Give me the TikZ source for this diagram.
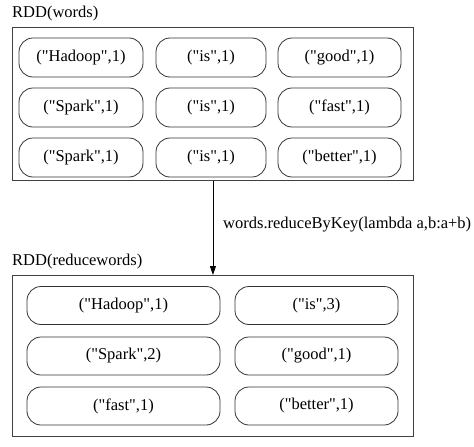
\documentclass[tikz,border=0pt]{standalone}
\usepackage{fontspec}
\setmainfont{Liberation Serif}
\usetikzlibrary{arrows.meta}
\newcommand\qd{\textquotedbl}
\begin{document}
\begin{tikzpicture}[x=1pt,y=-1pt,
  frame/.style={draw=black!75,line width=0.9pt,inner sep=0pt,anchor=north west},
  pill/.style={draw=black!80,line width=0.8pt,rounded corners=14pt,inner sep=0pt,font=\fontsize{16.5}{18}\selectfont},
  lbl/.style={anchor=west,inner sep=0pt,font=\fontsize{16.5}{18}\selectfont}]
\useasboundingbox (0,0) rectangle (474,447);
\node[frame,minimum width=401pt,minimum height=153pt] (top) at (12,27) {};
\node[frame,minimum width=401pt,minimum height=161pt] (bot) at (12,275) {};
\node[lbl] (tl) at (12,14) {RDD(words)};
\node[lbl] (bl) at (12,262) {RDD(reducewords)};
% top pills
\node[pill,minimum width=124pt,minimum height=39pt] (a1) at (81,57.5) {(\qd Hadoop\qd,1)};
\node[pill,minimum width=110pt,minimum height=39pt] (a2) at (211,57.5) {(\qd is\qd,1)};
\node[pill,minimum width=123pt,minimum height=39pt] (a3) at (339.5,57.5) {(\qd good\qd,1)};
\node[pill,minimum width=124pt,minimum height=39pt] (b1) at (81,107.5) {(\qd Spark\qd,1)};
\node[pill,minimum width=110pt,minimum height=39pt] (b2) at (211,107.5) {(\qd is\qd,1)};
\node[pill,minimum width=123pt,minimum height=39pt] (b3) at (339.5,107.5) {(\qd fast\qd,1)};
\node[pill,minimum width=124pt,minimum height=39pt] (c1) at (81,157.5) {(\qd Spark\qd,1)};
\node[pill,minimum width=110pt,minimum height=39pt] (c2) at (211,157.5) {(\qd is\qd,1)};
\node[pill,minimum width=123pt,minimum height=39pt] (c3) at (339.5,157.5) {(\qd better\qd,1)};
% bottom pills
\node[pill,minimum width=193pt,minimum height=38pt] (d1) at (123.5,305.5) {(\qd Hadoop\qd,1)};
\node[pill,minimum width=163pt,minimum height=38pt] (d2) at (316.5,305.5) {(\qd is\qd,3)};
\node[pill,minimum width=193pt,minimum height=38pt] (e1) at (123.5,356) {(\qd Spark\qd,2)};
\node[pill,minimum width=163pt,minimum height=38pt] (e2) at (316.5,356) {(\qd good\qd,1)};
\node[pill,minimum width=193pt,minimum height=38pt] (f1) at (123.5,406) {(\qd fast\qd,1)};
\node[pill,minimum width=163pt,minimum height=38pt] (f2) at (316.5,406) {(\qd better\qd,1)};
\draw[line width=0.9pt,-{Triangle[length=9pt,width=6pt]}] (top.south) -- (bot.north);
\node[lbl] (op) at (223,225) {words.reduceByKey(lambda a,b:a+b)};
\end{tikzpicture}
\end{document}
